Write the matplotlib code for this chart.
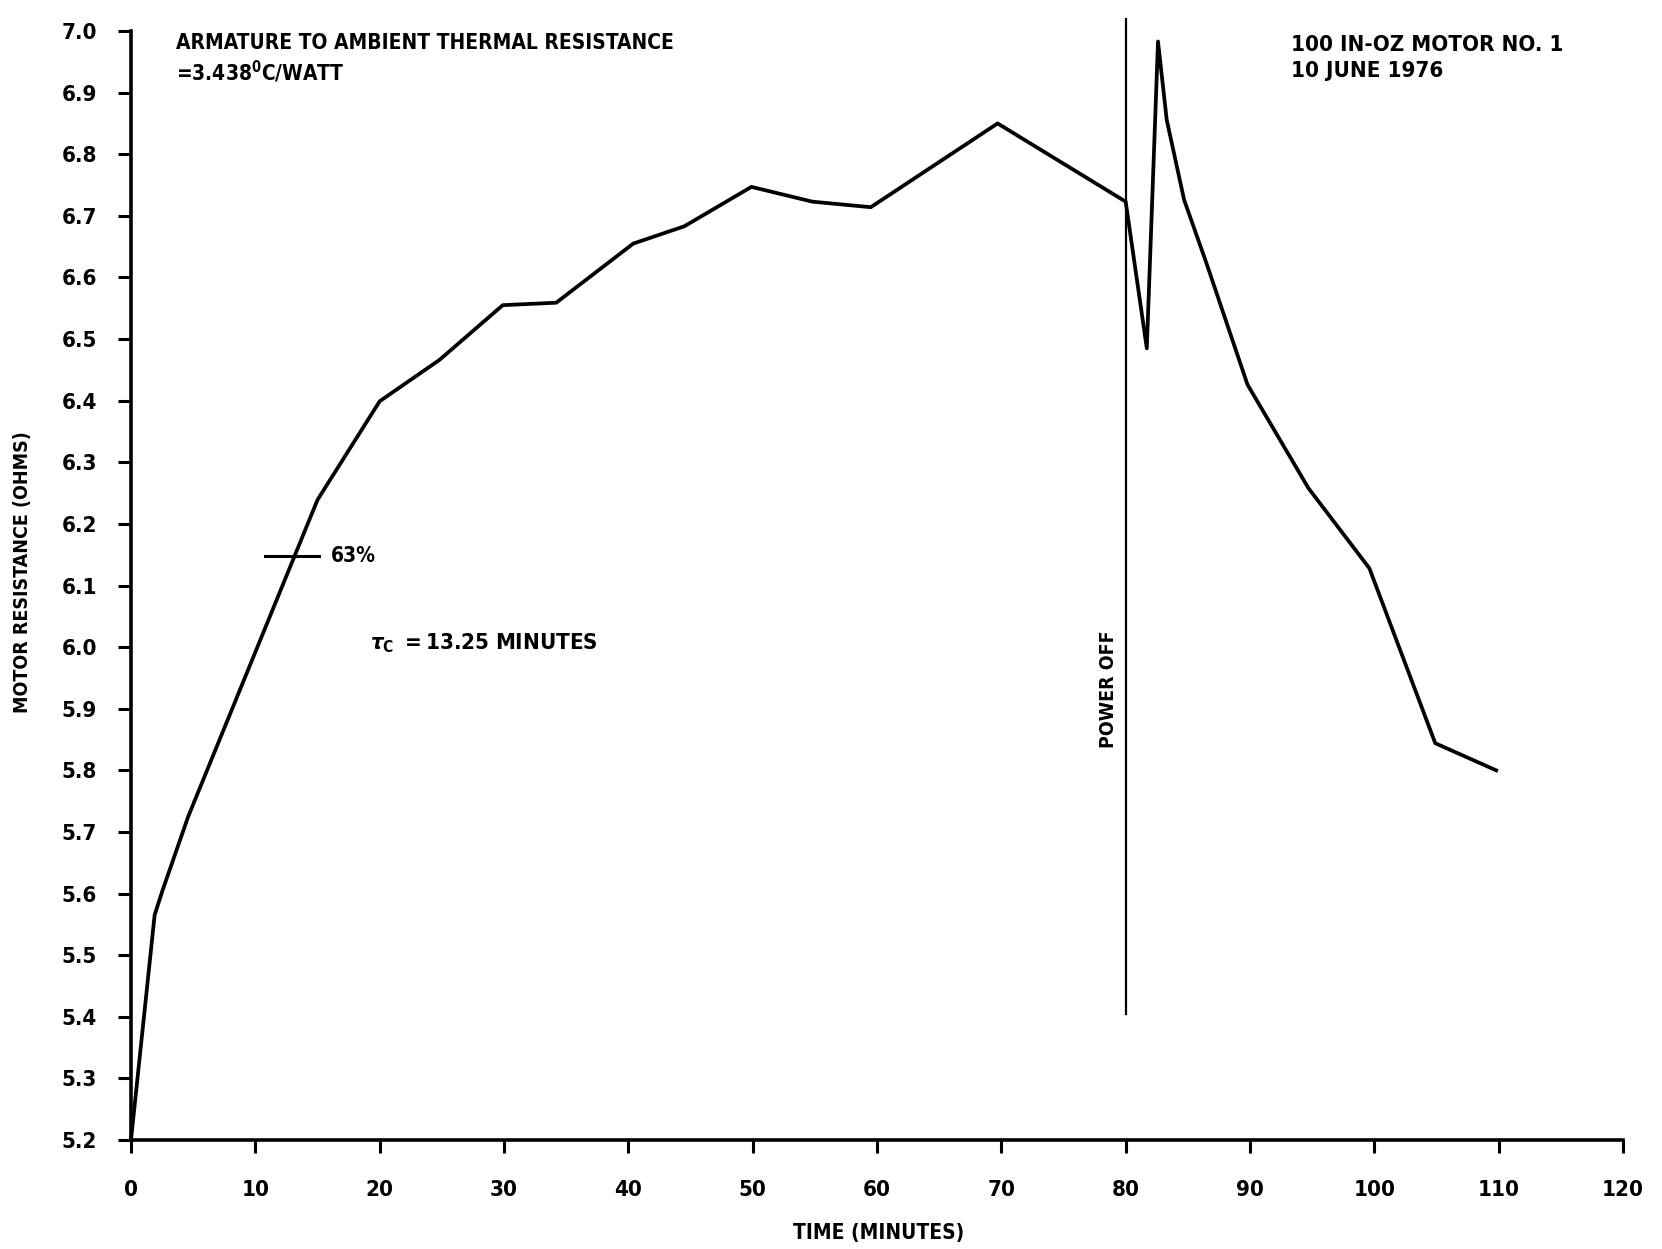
import matplotlib
matplotlib.use("Agg")
import matplotlib.pyplot as plt

# Motor armature resistance during heating and after power-off
time_min = [0.0, 1.9, 2.5, 4.6, 15.0, 20.0, 24.8, 29.9, 34.2, 40.4, 44.5, 49.9,
            54.8, 59.5, 69.7, 80.0, 81.7, 82.6, 83.3, 84.7, 86.5, 89.8, 94.7,
            99.6, 104.9, 109.8]
resistance_ohm = [5.200, 5.565, 5.603, 5.725, 6.239, 6.399, 6.466, 6.555, 6.559,
                  6.655, 6.683, 6.747, 6.723, 6.714, 6.850, 6.723, 6.485, 6.983,
                  6.856, 6.726, 6.623, 6.426, 6.258, 6.128, 5.844, 5.800]

x_ticks = [0, 10, 20, 30, 40, 50, 60, 70, 80, 90, 100, 110, 120]
y_ticks = [5.2, 5.3, 5.4, 5.5, 5.6, 5.7, 5.8, 5.9, 6.0, 6.1, 6.2, 6.3, 6.4,
           6.5, 6.6, 6.7, 6.8, 6.9, 7.0]

power_off_time = 80.0
power_off_span = [5.405, 7.02]
level_63 = 6.148
level_63_span = [10.8, 15.1]

plt.rcParams["font.family"] = ["DejaVu Sans"]
plt.rcParams["font.stretch"] = "condensed"
plt.rcParams["font.weight"] = "bold"

fig = plt.figure(figsize=(16.62, 12.49), dpi=100)
ax = fig.add_axes([131 / 1662, 1 - 1140 / 1249, 1492 / 1662, 1109 / 1249])

ax.plot(time_min, resistance_ohm, color="black", lw=2.7, solid_joinstyle="round",
        clip_on=False)

# power-off marker
ax.plot([power_off_time, power_off_time], power_off_span, color="black", lw=1.6,
        clip_on=False)
ax.text(78.6, 5.932, "POWER OFF", rotation=90, ha="center", va="center",
        fontsize=14)

# 63 % level marker
ax.plot(level_63_span, [level_63, level_63], color="black", lw=2.2)
ax.text(16.1, level_63, "63%", ha="left", va="center", fontsize=15)
ax.text(19.2, 6.007, r"$\tau_{\mathrm{C}}$ $=$13.25 MINUTES", ha="left",
        va="center", fontsize=16)

ax.text(3.6, 6.981, "ARMATURE TO AMBIENT THERMAL RESISTANCE", ha="left",
        va="center", fontsize=15)
ax.text(3.6, 6.934, r"=3.438$^{\mathrm{0}}$C/WATT", ha="left", va="center",
        fontsize=15)
ax.text(93.3, 6.978, "100 IN-OZ MOTOR NO. 1", ha="left", va="center",
        fontsize=16)
ax.text(93.3, 6.935, "10 JUNE 1976", ha="left", va="center", fontsize=16)

ax.set_xlim(0, 120)
ax.set_ylim(5.2, 7.0)
ax.set_xticks(x_ticks)
ax.set_xticklabels([str(v) for v in x_ticks])
ax.set_yticks(y_ticks)
ax.set_yticklabels([f"{v:.1f}" for v in y_ticks])

for side in ("top", "right"):
    ax.spines[side].set_visible(False)
for side in ("left", "bottom"):
    ax.spines[side].set_linewidth(2.6)
    ax.spines[side].set_capstyle("projecting")

ax.tick_params(axis="both", direction="out", length=9.5, width=2.2,
               labelsize=16, colors="black")
ax.tick_params(axis="y", pad=15)
ax.tick_params(axis="x", pad=19)

fig.text(23 / 1662, 1 - 572 / 1249, "MOTOR RESISTANCE (OHMS)", rotation=90,
         ha="center", va="center", fontsize=14)
fig.text(879 / 1662, 1 - 1233 / 1249, "TIME (MINUTES)", ha="center",
         va="center", fontsize=15)

fig.savefig("out.png", dpi=100, facecolor="white")
